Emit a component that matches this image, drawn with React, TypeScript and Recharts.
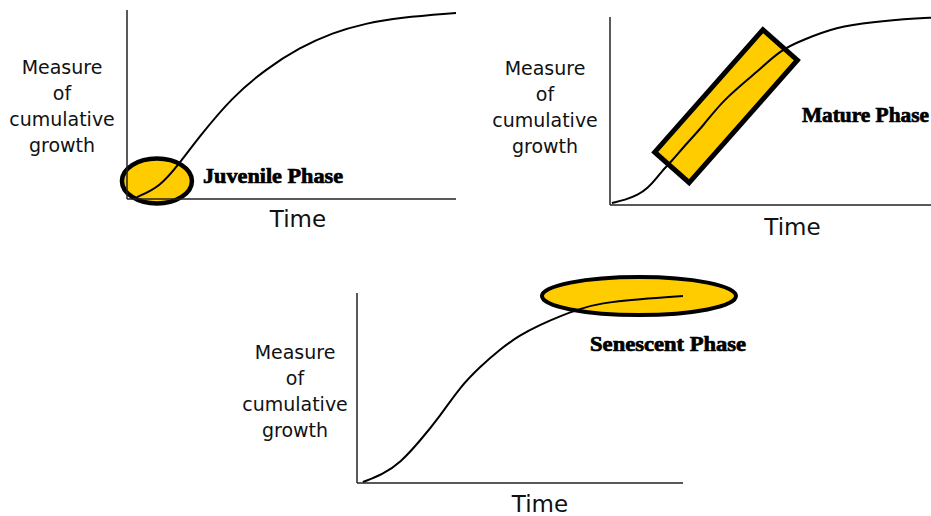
import React from "react";
import { LineChart, Line, XAxis, YAxis, ReferenceDot, ReferenceLine } from "recharts";

// ---- Data (units 0..100 on both axes) ----
const juvenileX = [3, 10, 16, 22, 32, 42.4, 52.4, 62.4, 72.7, 82.7, 100];
const juvenileY = [1, 6.3, 19, 33, 54, 69, 80, 88, 93, 96, 98.4];

const matureX = [0.6, 4.7, 8.7, 11.8, 14.6, 16.2, 18.7, 24, 29, 35.2, 45.8, 53, 60, 70.7, 81, 97.5, 100];
const matureY = [1.1, 2.7, 5.3, 9, 14.4, 18.1, 22.3, 33, 42, 55.9, 70.7, 82.4, 87.8, 94.7, 97.3, 99.5, 99.6];

const senescentX = [1.8, 8, 13.2, 19.3, 25.5, 31.6, 37.7, 43.9, 50, 56.1, 62.3, 68.4, 74.5, 86.8, 100];
const senescentY = [0.5, 4.7, 10.5, 22.1, 35.3, 50.5, 61.1, 70.5, 77.9, 83.2, 87.9, 91.6, 94.7, 96.8, 98.4];

const yLabelLines = ["Measure", "of", "cumulative", "growth"];
const xLabelText = "Time";
const phaseLabels = ["Juvenile Phase", "Mature Phase", "Senescent Phase"];

// highlight anchors (data units)
const juvenileEllipse = { x: 9.1, y: 9.5 };
const matureBand = [{ x: 19.3, y: 20 }, { x: 53, y: 85.1 }];
const senescentEllipse = { x: 86.5, y: 98.4 };
const phaseAnchors = [
  { x: 23.1, y: 8.5 },
  { x: 59.8, y: 44.1 },
  { x: 71.5, y: 69.5 },
];

const toData = (xs: number[], ys: number[]) => xs.map((x, i) => ({ x, y: ys[i] }));

const YELLOW = "#FFCC00";
const SANS = "'DejaVu Sans', sans-serif";
const SERIF = "'Liberation Serif', 'Times New Roman', serif";

type PanelProps = {
  left: number;
  top: number;
  width: number;
  height: number;
  margin: { top: number; right: number; bottom: number; left: number };
  data: { x: number; y: number }[];
  yLabelDx: number;
  yLabelTop: number;
  timeDx: number;
  timeDy: number;
  children?: React.ReactNode;
};

function Panel(p: PanelProps) {
  const yLabel = (props: any) => {
    const vb = props.viewBox || {};
    const axisX = (vb.x || 0) + (vb.width || 0);
    const cx = axisX - p.yLabelDx;
    const y0 = (vb.y || 0) + p.yLabelTop;
    return (
      <g>
        {yLabelLines.map((t, i) => (
          <text
            key={t}
            x={cx}
            y={y0 + i * 26}
            textAnchor="middle"
            dominantBaseline="central"
            fontFamily={SANS}
            fontSize={19}
            fill="#111"
          >
            {t}
          </text>
        ))}
      </g>
    );
  };
  const xLabel = (props: any) => {
    const vb = props.viewBox || {};
    return (
      <text
        x={(vb.x || 0) + p.timeDx}
        y={(vb.y || 0) + p.timeDy}
        textAnchor="middle"
        fontFamily={SANS}
        fontSize={23}
        fill="#111"
      >
        {xLabelText}
      </text>
    );
  };
  return (
    <div style={{ position: "absolute", left: p.left, top: p.top }}>
      <LineChart width={p.width} height={p.height} margin={p.margin} data={p.data} style={{ overflow: "visible" }}>
        <XAxis
          type="number"
          dataKey="x"
          domain={[0, 100]}
          tick={false}
          tickLine={false}
          height={1}
          axisLine={{ stroke: "#222", strokeWidth: 1.5 }}
          label={{ content: xLabel }}
        />
        <YAxis
          type="number"
          domain={[0, 100]}
          tick={false}
          tickLine={false}
          width={1}
          axisLine={{ stroke: "#222", strokeWidth: 1.5 }}
          label={{ content: yLabel }}
        />
        {p.children}
        <Line
          dataKey="y"
          type="basis"
          stroke="#000"
          strokeWidth={2}
          dot={false}
          isAnimationActive={false}
        />
      </LineChart>
    </div>
  );
}

const phaseText = (label: string, len: number) => (props: any) => (
  <text
    x={props.cx}
    y={props.cy}
    fontFamily={SERIF}
    fontWeight="bold"
    fontSize={21}
    fill="#000"
    stroke="#000"
    strokeWidth={0.7}
    textLength={len}
    lengthAdjust="spacingAndGlyphs"
  >
    {label}
  </text>
);

const ellipseShape = (rx: number, ry: number, sw: number) => (props: any) => (
  <ellipse cx={props.x1} cy={props.y1} rx={rx} ry={ry} fill={YELLOW} stroke="#000" strokeWidth={sw} />
);

const bandShape = (halfWidth: number) => (props: any) => {
  const { x1, y1, x2, y2 } = props;
  const dx = x2 - x1;
  const dy = y2 - y1;
  const len = Math.sqrt(dx * dx + dy * dy) || 1;
  const nx = (-dy / len) * halfWidth;
  const ny = (dx / len) * halfWidth;
  const pts = [
    [x1 + nx, y1 + ny],
    [x2 + nx, y2 + ny],
    [x2 - nx, y2 - ny],
    [x1 - nx, y1 - ny],
  ]
    .map((q) => q.join(","))
    .join(" ");
  return <polygon points={pts} fill={YELLOW} stroke="#000" strokeWidth={5} strokeLinejoin="miter" />;
};

export default function App() {
  return (
    <div
      style={{
        position: "absolute",
        left: 0,
        top: 0,
        width: 931,
        height: 516,
        background: "#fff",
        overflow: "hidden",
      }}
    >
      <Panel
        left={0}
        top={0}
        width={470}
        height={250}
        margin={{ top: 10, right: 14, bottom: 50, left: 126 }}
        data={toData(juvenileX, juvenileY)}
        yLabelDx={65}
        yLabelTop={57}
        timeDx={171}
        timeDy={28}
      >
        <ReferenceLine
          segment={[juvenileEllipse, juvenileEllipse]}
          ifOverflow="visible"
          shape={ellipseShape(35, 22.5, 4.5)}
        />
        <ReferenceDot
          x={phaseAnchors[0].x}
          y={phaseAnchors[0].y}
          r={1}
          ifOverflow="visible"
          shape={phaseText(phaseLabels[0], 140)}
        />
      </Panel>

      <Panel
        left={470}
        top={0}
        width={461}
        height={250}
        margin={{ top: 17, right: 0, bottom: 44, left: 139 }}
        data={toData(matureX, matureY)}
        yLabelDx={65}
        yLabelTop={50.5}
        timeDx={182.5}
        timeDy={30}
      >
        <ReferenceLine
          segment={matureBand}
          ifOverflow="visible"
          shape={bandShape(23)}
        />
        <ReferenceDot
          x={phaseAnchors[1].x}
          y={phaseAnchors[1].y}
          r={1}
          ifOverflow="visible"
          shape={phaseText(phaseLabels[1], 127)}
        />
      </Panel>

      <Panel
        left={230}
        top={260}
        width={530}
        height={256}
        margin={{ top: 33, right: 77, bottom: 32, left: 126 }}
        data={toData(senescentX, senescentY)}
        yLabelDx={62}
        yLabelTop={59}
        timeDx={183}
        timeDy={29}
      >
        <ReferenceLine
          segment={[senescentEllipse, senescentEllipse]}
          ifOverflow="visible"
          shape={ellipseShape(97, 19, 4)}
        />
        <ReferenceDot
          x={phaseAnchors[2].x}
          y={phaseAnchors[2].y}
          r={1}
          ifOverflow="visible"
          shape={phaseText(phaseLabels[2], 156)}
        />
      </Panel>
    </div>
  );
}
